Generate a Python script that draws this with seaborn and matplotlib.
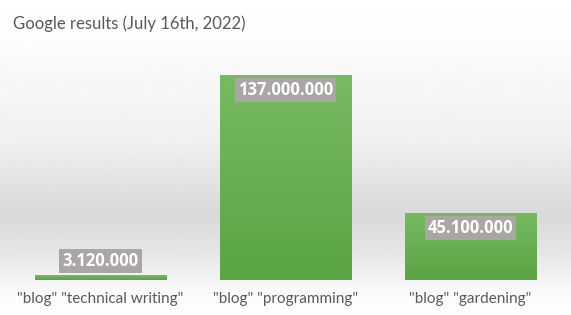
import numpy as np
import pandas as pd
import matplotlib
matplotlib.use("Agg")
import matplotlib.pyplot as plt
from matplotlib.colors import LinearSegmentedColormap
import seaborn as sns

categories = ['"blog" "technical writing"', '"blog" "programming"', '"blog" "gardening"']
results = [3120000, 137000000, 45100000]
value_labels = ["3.120.000", "137.000.000", "45.100.000"]
title = "Google results (July 16th, 2022)"

sns.set_theme(style="white")
plt.rcParams['font.family'] = ['Lato', 'DejaVu Sans']

W, H = 571, 315
fig = plt.figure(figsize=(W / 100, H / 100), dpi=100)

# background gradient
bg = fig.add_axes([0, 0, 1, 1], zorder=-10)
ys = np.linspace(0, 1, 400)  # 0 = top
stops_y = [0.0, 0.12, 0.45, 0.68, 0.80, 0.92, 1.0]
stops_v = [1.0, 0.99, 0.94, 0.85, 0.90, 0.975, 1.0]
vals = np.interp(ys, stops_y, stops_v)
img = np.repeat(vals[:, None], 2, axis=1)
bg.imshow(img, cmap="gray", vmin=0, vmax=1, aspect="auto", extent=[0, 1, 0, 1], interpolation="bilinear")
bg.set_axis_off()

ax_left, ax_right = 8 / W, 563 / W
ax_bottom, ax_top = (H - 280) / H, (H - 40) / H
ax = fig.add_axes([ax_left, ax_bottom, ax_right - ax_left, ax_top - ax_bottom])
ax.patch.set_alpha(0)

df = pd.DataFrame({"query": categories, "results": results})
sns.barplot(data=df, x="query", y="results", ax=ax, color="#66ae4f", width=0.71,
            saturation=1, errorbar=None)

ymax = 137e6 * 240 / 205
ax.set_xlim(-0.5, 2.5)
ax.set_ylim(0, ymax)

bar_cmap = LinearSegmentedColormap.from_list("g", ["#5aa442", "#77ba62"])
grad = np.linspace(0, 1, 256)[:, None][::-1]
for p in list(ax.patches):
    x0, y0 = p.get_x(), p.get_y()
    w, h = p.get_width(), p.get_height()
    im = ax.imshow(grad, cmap=bar_cmap, aspect="auto", extent=[x0, x0 + w, y0, y0 + h],
                   interpolation="bilinear", zorder=2)
    im.set_clip_path(p)
    p.set_facecolor("none")
    p.set_edgecolor("none")
ax.set_xlim(-0.5, 2.5)
ax.set_ylim(0, ymax)

px_per_unit = 240 / ymax
for i, (v, lab) in enumerate(zip(results, value_labels)):
    hpx = v * px_per_unit
    if hpx > 30:
        off, va = -6, "top"
    else:
        off, va = 5, "bottom"
    ax.annotate(lab, xy=(i, v), xytext=(0, off), textcoords="offset pixels",
                ha="center", va=va, color="white", fontweight="bold", fontsize=12,
                family=["Open Sans", "DejaVu Sans"],
                bbox=dict(boxstyle="square,pad=0.18", fc="#aaa6a6", ec="none"), zorder=5)

ax.set_xlabel("")
ax.set_ylabel("")
ax.set_yticks([])
ax.tick_params(axis="x", length=0, pad=9, labelsize=11, labelcolor="#595959")
for s in ax.spines.values():
    s.set_visible(False)

fig.text(13 / W, 1 - 24 / H, title, ha="left", va="center", fontsize=12, color="#595959")

fig.savefig("out.png", dpi=100)
